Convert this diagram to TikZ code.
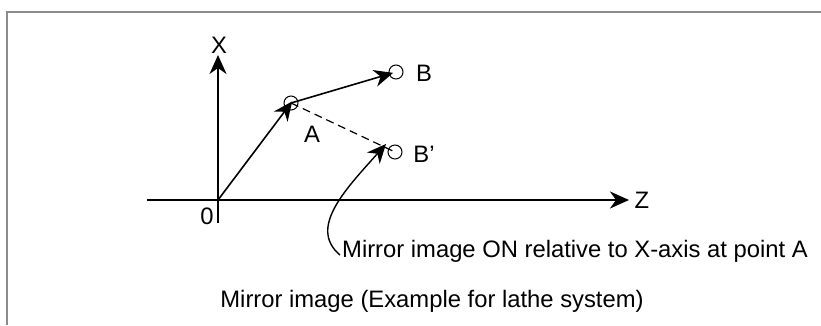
\documentclass[tikz,border=0pt]{standalone}
\usepackage{fontspec}
\setmainfont{Liberation Sans}
\usetikzlibrary{arrows.meta}
\begin{document}
\begin{tikzpicture}[x=1pt,y=-1pt,
  lbl/.style={inner sep=0pt,font=\fontsize{23.8}{28}\selectfont},
  pt/.style={circle,draw,line width=1pt,minimum size=14pt,inner sep=0pt},
  axis/.style={line width=1.8pt,-{Stealth[length=19pt,width=17pt,inset=6pt]}},
  vec/.style={line width=1.6pt,-{Stealth[length=19pt,width=17pt,inset=6pt]}},
  frameline/.style={draw=black!45,line width=1.8pt}]
\useasboundingbox (0,0) rectangle (821,325);
\draw[frameline] (7,325) -- (7,12) -- (821,12);
% axes
\coordinate (O) at (218,200);
\coordinate (xb) at (218,223);
\coordinate (xt) at (218,55);
\coordinate (zl) at (147,200);
\coordinate (zt) at (629,200);
\draw[axis] (xb) -- (xt);
\draw[axis] (zl) -- (zt);
\node[lbl] (X) at (219,45) {X};
\node[lbl] (Z) at (642,200) {Z};
\node[lbl] (zero) at (207,216) {0};
% points
\node[pt] (A) at (291,103) {};
\node[pt] (B) at (396,72) {};
\node[pt] (Bp) at (395,152) {};
\node[lbl] (Al) at (312,134) {A};
\node[lbl] (Bl) at (424,73) {B};
\node[lbl] (Bpl) at (424,154) {B’};
\draw[vec,shorten >=-2pt] (O) -- (A.center);
\draw[vec,shorten >=3pt] (A.center) -- (B.center);
\draw[line width=1.2pt,dash pattern=on 8pt off 5pt] (A.center) -- (Bp.center);
% annotation
\node[lbl,anchor=west] (note) at (342,251) {Mirror image ON relative to X-axis at point A};
\coordinate (cs) at (340,255);
\draw[vec,line width=1.4pt] (cs) .. controls (308,228) and (345,190) .. ([shift={(-9pt,8pt)}]Bp.center);
\node[lbl] (cap) at (432,301) {Mirror image (Example for lathe system)};
\end{tikzpicture}
\end{document}
